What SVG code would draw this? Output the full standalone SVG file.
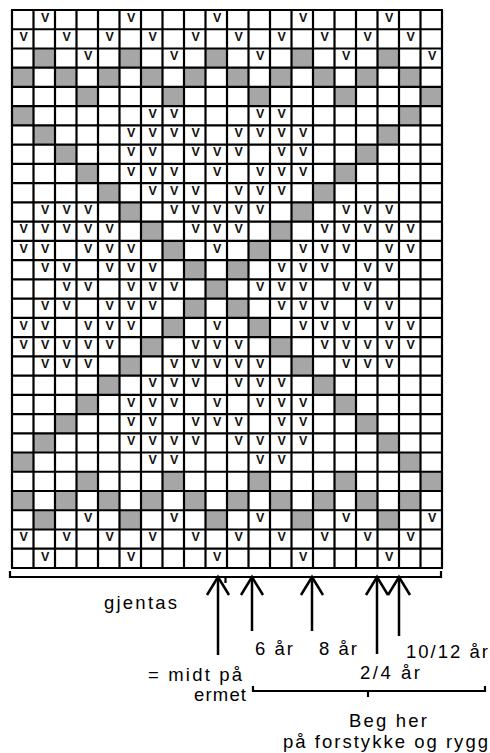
<svg xmlns="http://www.w3.org/2000/svg" width="490" height="753" viewBox="0 0 490 753">
<style>
.v{font-family:"Liberation Sans",Arial,sans-serif;font-size:12.5px;font-weight:bold;fill:#111;text-anchor:middle}
.g{fill:#a6a6a6}
.lbl{font-family:"Liberation Sans",Arial,sans-serif;font-size:18.5px;fill:#000}
.ln{fill:none;stroke:#000;stroke-width:2.2}
.arr{fill:none;stroke:#000;stroke-width:2.5}
</style>
<defs>
<marker id="ah" viewBox="-20 -13 23 26" refX="0" refY="0" markerWidth="23" markerHeight="26" markerUnits="userSpaceOnUse" orient="auto" overflow="visible">
<path d="M-18,-11 L0,0 L-18,11" fill="none" stroke="#000" stroke-width="2.5"/>
</marker>
</defs>
<rect width="490" height="753" fill="#fff"/>
<g id="chart">
<g transform="translate(0,10)"><text class="v" x="45.25" y="11.8">V</text><text class="v" x="131.25" y="11.8">V</text><text class="v" x="217.25" y="11.8">V</text><text class="v" x="303.25" y="11.8">V</text><text class="v" x="389.25" y="11.8">V</text></g>
<g transform="translate(0,29.24)"><text class="v" x="23.75" y="11.8">V</text><text class="v" x="66.75" y="11.8">V</text><text class="v" x="109.75" y="11.8">V</text><text class="v" x="152.75" y="11.8">V</text><text class="v" x="195.75" y="11.8">V</text><text class="v" x="238.75" y="11.8">V</text><text class="v" x="281.75" y="11.8">V</text><text class="v" x="324.75" y="11.8">V</text><text class="v" x="367.75" y="11.8">V</text><text class="v" x="410.75" y="11.8">V</text></g>
<g transform="translate(0,48.48)"><rect class="g" x="33.5" width="21.5" height="19.24"/><rect class="g" x="119.5" width="21.5" height="19.24"/><rect class="g" x="205.5" width="21.5" height="19.24"/><rect class="g" x="291.5" width="21.5" height="19.24"/><rect class="g" x="377.5" width="21.5" height="19.24"/><text class="v" x="88.25" y="11.8">V</text><text class="v" x="174.25" y="11.8">V</text><text class="v" x="260.25" y="11.8">V</text><text class="v" x="346.25" y="11.8">V</text><text class="v" x="432.25" y="11.8">V</text></g>
<g transform="translate(0,67.72)"><rect class="g" x="12" width="21.5" height="19.24"/><rect class="g" x="55" width="21.5" height="19.24"/><rect class="g" x="98" width="21.5" height="19.24"/><rect class="g" x="141" width="21.5" height="19.24"/><rect class="g" x="184" width="21.5" height="19.24"/><rect class="g" x="227" width="21.5" height="19.24"/><rect class="g" x="270" width="21.5" height="19.24"/><rect class="g" x="313" width="21.5" height="19.24"/><rect class="g" x="356" width="21.5" height="19.24"/><rect class="g" x="399" width="21.5" height="19.24"/></g>
<g transform="translate(0,86.96)"><rect class="g" x="76.5" width="21.5" height="19.24"/><rect class="g" x="162.5" width="21.5" height="19.24"/><rect class="g" x="248.5" width="21.5" height="19.24"/><rect class="g" x="334.5" width="21.5" height="19.24"/><rect class="g" x="420.5" width="21.5" height="19.24"/></g>
<g transform="translate(0,106.2)"><rect class="g" x="12" width="21.5" height="19.24"/><rect class="g" x="399" width="21.5" height="19.24"/><text class="v" x="152.75" y="11.8">V</text><text class="v" x="174.25" y="11.8">V</text><text class="v" x="260.25" y="11.8">V</text><text class="v" x="281.75" y="11.8">V</text></g>
<g transform="translate(0,125.44)"><rect class="g" x="33.5" width="21.5" height="19.24"/><rect class="g" x="377.5" width="21.5" height="19.24"/><text class="v" x="131.25" y="11.8">V</text><text class="v" x="152.75" y="11.8">V</text><text class="v" x="174.25" y="11.8">V</text><text class="v" x="195.75" y="11.8">V</text><text class="v" x="238.75" y="11.8">V</text><text class="v" x="260.25" y="11.8">V</text><text class="v" x="281.75" y="11.8">V</text><text class="v" x="303.25" y="11.8">V</text></g>
<g transform="translate(0,144.68)"><rect class="g" x="55" width="21.5" height="19.24"/><rect class="g" x="356" width="21.5" height="19.24"/><text class="v" x="131.25" y="11.8">V</text><text class="v" x="152.75" y="11.8">V</text><text class="v" x="195.75" y="11.8">V</text><text class="v" x="217.25" y="11.8">V</text><text class="v" x="238.75" y="11.8">V</text><text class="v" x="281.75" y="11.8">V</text><text class="v" x="303.25" y="11.8">V</text></g>
<g transform="translate(0,163.92)"><rect class="g" x="76.5" width="21.5" height="19.24"/><rect class="g" x="334.5" width="21.5" height="19.24"/><text class="v" x="131.25" y="11.8">V</text><text class="v" x="152.75" y="11.8">V</text><text class="v" x="174.25" y="11.8">V</text><text class="v" x="217.25" y="11.8">V</text><text class="v" x="260.25" y="11.8">V</text><text class="v" x="281.75" y="11.8">V</text><text class="v" x="303.25" y="11.8">V</text></g>
<g transform="translate(0,183.16)"><rect class="g" x="98" width="21.5" height="19.24"/><rect class="g" x="313" width="21.5" height="19.24"/><text class="v" x="152.75" y="11.8">V</text><text class="v" x="174.25" y="11.8">V</text><text class="v" x="195.75" y="11.8">V</text><text class="v" x="238.75" y="11.8">V</text><text class="v" x="260.25" y="11.8">V</text><text class="v" x="281.75" y="11.8">V</text></g>
<g transform="translate(0,202.4)"><rect class="g" x="119.5" width="21.5" height="19.24"/><rect class="g" x="291.5" width="21.5" height="19.24"/><text class="v" x="45.25" y="11.8">V</text><text class="v" x="66.75" y="11.8">V</text><text class="v" x="88.25" y="11.8">V</text><text class="v" x="174.25" y="11.8">V</text><text class="v" x="195.75" y="11.8">V</text><text class="v" x="217.25" y="11.8">V</text><text class="v" x="238.75" y="11.8">V</text><text class="v" x="260.25" y="11.8">V</text><text class="v" x="346.25" y="11.8">V</text><text class="v" x="367.75" y="11.8">V</text><text class="v" x="389.25" y="11.8">V</text></g>
<g transform="translate(0,221.64)"><rect class="g" x="141" width="21.5" height="19.24"/><rect class="g" x="270" width="21.5" height="19.24"/><text class="v" x="23.75" y="11.8">V</text><text class="v" x="45.25" y="11.8">V</text><text class="v" x="66.75" y="11.8">V</text><text class="v" x="88.25" y="11.8">V</text><text class="v" x="109.75" y="11.8">V</text><text class="v" x="195.75" y="11.8">V</text><text class="v" x="217.25" y="11.8">V</text><text class="v" x="238.75" y="11.8">V</text><text class="v" x="324.75" y="11.8">V</text><text class="v" x="346.25" y="11.8">V</text><text class="v" x="367.75" y="11.8">V</text><text class="v" x="389.25" y="11.8">V</text><text class="v" x="410.75" y="11.8">V</text></g>
<g transform="translate(0,240.88)"><rect class="g" x="162.5" width="21.5" height="19.24"/><rect class="g" x="248.5" width="21.5" height="19.24"/><text class="v" x="23.75" y="11.8">V</text><text class="v" x="45.25" y="11.8">V</text><text class="v" x="88.25" y="11.8">V</text><text class="v" x="109.75" y="11.8">V</text><text class="v" x="131.25" y="11.8">V</text><text class="v" x="217.25" y="11.8">V</text><text class="v" x="303.25" y="11.8">V</text><text class="v" x="324.75" y="11.8">V</text><text class="v" x="346.25" y="11.8">V</text><text class="v" x="389.25" y="11.8">V</text><text class="v" x="410.75" y="11.8">V</text></g>
<g transform="translate(0,260.12)"><rect class="g" x="184" width="21.5" height="19.24"/><rect class="g" x="227" width="21.5" height="19.24"/><text class="v" x="45.25" y="11.8">V</text><text class="v" x="66.75" y="11.8">V</text><text class="v" x="109.75" y="11.8">V</text><text class="v" x="131.25" y="11.8">V</text><text class="v" x="152.75" y="11.8">V</text><text class="v" x="281.75" y="11.8">V</text><text class="v" x="303.25" y="11.8">V</text><text class="v" x="324.75" y="11.8">V</text><text class="v" x="367.75" y="11.8">V</text><text class="v" x="389.25" y="11.8">V</text></g>
<g transform="translate(0,279.36)"><rect class="g" x="205.5" width="21.5" height="19.24"/><text class="v" x="66.75" y="11.8">V</text><text class="v" x="88.25" y="11.8">V</text><text class="v" x="131.25" y="11.8">V</text><text class="v" x="152.75" y="11.8">V</text><text class="v" x="174.25" y="11.8">V</text><text class="v" x="260.25" y="11.8">V</text><text class="v" x="281.75" y="11.8">V</text><text class="v" x="303.25" y="11.8">V</text><text class="v" x="346.25" y="11.8">V</text><text class="v" x="367.75" y="11.8">V</text></g>
<g transform="translate(0,298.6)"><rect class="g" x="184" width="21.5" height="19.24"/><rect class="g" x="227" width="21.5" height="19.24"/><text class="v" x="45.25" y="11.8">V</text><text class="v" x="66.75" y="11.8">V</text><text class="v" x="109.75" y="11.8">V</text><text class="v" x="131.25" y="11.8">V</text><text class="v" x="152.75" y="11.8">V</text><text class="v" x="281.75" y="11.8">V</text><text class="v" x="303.25" y="11.8">V</text><text class="v" x="324.75" y="11.8">V</text><text class="v" x="367.75" y="11.8">V</text><text class="v" x="389.25" y="11.8">V</text></g>
<g transform="translate(0,317.84)"><rect class="g" x="162.5" width="21.5" height="19.24"/><rect class="g" x="248.5" width="21.5" height="19.24"/><text class="v" x="23.75" y="11.8">V</text><text class="v" x="45.25" y="11.8">V</text><text class="v" x="88.25" y="11.8">V</text><text class="v" x="109.75" y="11.8">V</text><text class="v" x="131.25" y="11.8">V</text><text class="v" x="217.25" y="11.8">V</text><text class="v" x="303.25" y="11.8">V</text><text class="v" x="324.75" y="11.8">V</text><text class="v" x="346.25" y="11.8">V</text><text class="v" x="389.25" y="11.8">V</text><text class="v" x="410.75" y="11.8">V</text></g>
<g transform="translate(0,337.08)"><rect class="g" x="141" width="21.5" height="19.24"/><rect class="g" x="270" width="21.5" height="19.24"/><text class="v" x="23.75" y="11.8">V</text><text class="v" x="45.25" y="11.8">V</text><text class="v" x="66.75" y="11.8">V</text><text class="v" x="88.25" y="11.8">V</text><text class="v" x="109.75" y="11.8">V</text><text class="v" x="195.75" y="11.8">V</text><text class="v" x="217.25" y="11.8">V</text><text class="v" x="238.75" y="11.8">V</text><text class="v" x="324.75" y="11.8">V</text><text class="v" x="346.25" y="11.8">V</text><text class="v" x="367.75" y="11.8">V</text><text class="v" x="389.25" y="11.8">V</text><text class="v" x="410.75" y="11.8">V</text></g>
<g transform="translate(0,356.32)"><rect class="g" x="119.5" width="21.5" height="19.24"/><rect class="g" x="291.5" width="21.5" height="19.24"/><text class="v" x="45.25" y="11.8">V</text><text class="v" x="66.75" y="11.8">V</text><text class="v" x="88.25" y="11.8">V</text><text class="v" x="174.25" y="11.8">V</text><text class="v" x="195.75" y="11.8">V</text><text class="v" x="217.25" y="11.8">V</text><text class="v" x="238.75" y="11.8">V</text><text class="v" x="260.25" y="11.8">V</text><text class="v" x="346.25" y="11.8">V</text><text class="v" x="367.75" y="11.8">V</text><text class="v" x="389.25" y="11.8">V</text></g>
<g transform="translate(0,375.56)"><rect class="g" x="98" width="21.5" height="19.24"/><rect class="g" x="313" width="21.5" height="19.24"/><text class="v" x="152.75" y="11.8">V</text><text class="v" x="174.25" y="11.8">V</text><text class="v" x="195.75" y="11.8">V</text><text class="v" x="238.75" y="11.8">V</text><text class="v" x="260.25" y="11.8">V</text><text class="v" x="281.75" y="11.8">V</text></g>
<g transform="translate(0,394.8)"><rect class="g" x="76.5" width="21.5" height="19.24"/><rect class="g" x="334.5" width="21.5" height="19.24"/><text class="v" x="131.25" y="11.8">V</text><text class="v" x="152.75" y="11.8">V</text><text class="v" x="174.25" y="11.8">V</text><text class="v" x="217.25" y="11.8">V</text><text class="v" x="260.25" y="11.8">V</text><text class="v" x="281.75" y="11.8">V</text><text class="v" x="303.25" y="11.8">V</text></g>
<g transform="translate(0,414.04)"><rect class="g" x="55" width="21.5" height="19.24"/><rect class="g" x="356" width="21.5" height="19.24"/><text class="v" x="131.25" y="11.8">V</text><text class="v" x="152.75" y="11.8">V</text><text class="v" x="195.75" y="11.8">V</text><text class="v" x="217.25" y="11.8">V</text><text class="v" x="238.75" y="11.8">V</text><text class="v" x="281.75" y="11.8">V</text><text class="v" x="303.25" y="11.8">V</text></g>
<g transform="translate(0,433.28)"><rect class="g" x="33.5" width="21.5" height="19.24"/><rect class="g" x="377.5" width="21.5" height="19.24"/><text class="v" x="131.25" y="11.8">V</text><text class="v" x="152.75" y="11.8">V</text><text class="v" x="174.25" y="11.8">V</text><text class="v" x="195.75" y="11.8">V</text><text class="v" x="238.75" y="11.8">V</text><text class="v" x="260.25" y="11.8">V</text><text class="v" x="281.75" y="11.8">V</text><text class="v" x="303.25" y="11.8">V</text></g>
<g transform="translate(0,452.52)"><rect class="g" x="12" width="21.5" height="19.24"/><rect class="g" x="399" width="21.5" height="19.24"/><text class="v" x="152.75" y="11.8">V</text><text class="v" x="174.25" y="11.8">V</text><text class="v" x="260.25" y="11.8">V</text><text class="v" x="281.75" y="11.8">V</text></g>
<g transform="translate(0,471.76)"><rect class="g" x="76.5" width="21.5" height="19.24"/><rect class="g" x="162.5" width="21.5" height="19.24"/><rect class="g" x="248.5" width="21.5" height="19.24"/><rect class="g" x="334.5" width="21.5" height="19.24"/><rect class="g" x="420.5" width="21.5" height="19.24"/></g>
<g transform="translate(0,491)"><rect class="g" x="12" width="21.5" height="19.24"/><rect class="g" x="55" width="21.5" height="19.24"/><rect class="g" x="98" width="21.5" height="19.24"/><rect class="g" x="141" width="21.5" height="19.24"/><rect class="g" x="184" width="21.5" height="19.24"/><rect class="g" x="227" width="21.5" height="19.24"/><rect class="g" x="270" width="21.5" height="19.24"/><rect class="g" x="313" width="21.5" height="19.24"/><rect class="g" x="356" width="21.5" height="19.24"/><rect class="g" x="399" width="21.5" height="19.24"/></g>
<g transform="translate(0,510.24)"><rect class="g" x="33.5" width="21.5" height="19.24"/><rect class="g" x="119.5" width="21.5" height="19.24"/><rect class="g" x="205.5" width="21.5" height="19.24"/><rect class="g" x="291.5" width="21.5" height="19.24"/><rect class="g" x="377.5" width="21.5" height="19.24"/><text class="v" x="88.25" y="11.8">V</text><text class="v" x="174.25" y="11.8">V</text><text class="v" x="260.25" y="11.8">V</text><text class="v" x="346.25" y="11.8">V</text><text class="v" x="432.25" y="11.8">V</text></g>
<g transform="translate(0,529.48)"><text class="v" x="23.75" y="11.8">V</text><text class="v" x="66.75" y="11.8">V</text><text class="v" x="109.75" y="11.8">V</text><text class="v" x="152.75" y="11.8">V</text><text class="v" x="195.75" y="11.8">V</text><text class="v" x="238.75" y="11.8">V</text><text class="v" x="281.75" y="11.8">V</text><text class="v" x="324.75" y="11.8">V</text><text class="v" x="367.75" y="11.8">V</text><text class="v" x="410.75" y="11.8">V</text></g>
<g transform="translate(0,548.72)"><text class="v" x="45.25" y="11.8">V</text><text class="v" x="131.25" y="11.8">V</text><text class="v" x="217.25" y="11.8">V</text><text class="v" x="303.25" y="11.8">V</text><text class="v" x="389.25" y="11.8">V</text></g>
<path id="gridlines" class="ln" stroke-width="2" d="M12,10V568M33.5,10V568M55,10V568M76.5,10V568M98,10V568M119.5,10V568M141,10V568M162.5,10V568M184,10V568M205.5,10V568M227,10V568M248.5,10V568M270,10V568M291.5,10V568M313,10V568M334.5,10V568M356,10V568M377.5,10V568M399,10V568M420.5,10V568M442,10V568M11,10H443M11,29.24H443M11,48.48H443M11,67.72H443M11,86.96H443M11,106.2H443M11,125.44H443M11,144.68H443M11,163.92H443M11,183.16H443M11,202.4H443M11,221.64H443M11,240.88H443M11,260.12H443M11,279.36H443M11,298.6H443M11,317.84H443M11,337.08H443M11,356.32H443M11,375.56H443M11,394.8H443M11,414.04H443M11,433.28H443M11,452.52H443M11,471.76H443M11,491H443M11,510.24H443M11,529.48H443M11,548.72H443M11,568H443"/>
</g>
<g id="connectors">
<path id="bracket-gjentas" class="ln" d="M10,571V577H441V571M225.5,577V583"/>
<path id="bracket-beg" class="ln" d="M253,686V691H485V686M368,691V697"/>
<line id="arrow-midt" class="arr" x1="218" y1="655" x2="218" y2="577" marker-end="url(#ah)"/>
<line id="arrow-6" class="arr" x1="252" y1="631" x2="252" y2="577" marker-end="url(#ah)"/>
<line id="arrow-8" class="arr" x1="312" y1="631" x2="312" y2="577" marker-end="url(#ah)"/>
<line id="arrow-24" class="arr" x1="377" y1="654" x2="377" y2="577" marker-end="url(#ah)"/>
<line id="arrow-1012" class="arr" x1="399" y1="636" x2="399" y2="577" marker-end="url(#ah)"/>
</g>
<g id="label-gjentas"><text class="lbl" x="104" y="609" textLength="73" lengthAdjust="spacing">gjentas</text></g>
<g id="label-6"><text class="lbl" x="255" y="655" textLength="38" lengthAdjust="spacing">6 år</text></g>
<g id="label-8"><text class="lbl" x="319" y="655" textLength="38" lengthAdjust="spacing">8 år</text></g>
<g id="label-1012"><text class="lbl" x="406" y="658" textLength="82" lengthAdjust="spacing">10/12 år</text></g>
<g id="label-24"><text class="lbl" x="360" y="679" textLength="60" lengthAdjust="spacing">2/4 år</text></g>
<g id="label-midt"><text class="lbl" x="148" y="680.5" textLength="94" lengthAdjust="spacing">= midt på</text><text class="lbl" x="194" y="700.5" textLength="52" lengthAdjust="spacing">ermet</text></g>
<g id="label-beg"><text class="lbl" x="349" y="727" textLength="78" lengthAdjust="spacing">Beg her</text><text class="lbl" x="283" y="748" textLength="205" lengthAdjust="spacing">på forstykke og rygg</text></g>
</svg>
